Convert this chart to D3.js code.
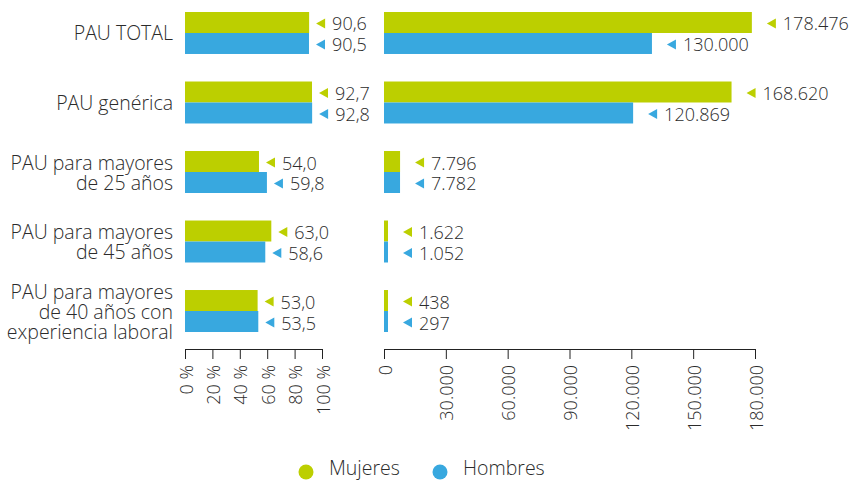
<!DOCTYPE html>
<html>
<head>
<meta charset="utf-8">
<script src="https://cdn.jsdelivr.net/npm/d3@7"></script>
<style>
  body { margin: 0; background: #fff; }
  text { font-family: "Open Sans", sans-serif; font-weight: 300; fill: #2b2b2b; }
</style>
</head>
<body>
<div id="chart"></div>
<script>
// data
var categories = [
  ["PAU TOTAL"],
  ["PAU genérica"],
  ["PAU para mayores", "de 25 años"],
  ["PAU para mayores", "de 45 años"],
  ["PAU para mayores", "de 40 años con", "experiencia laboral"]
];
var pctMujeres = [90.6, 92.7, 54.0, 63.0, 53.0];
var pctHombres = [90.5, 92.8, 59.8, 58.6, 53.5];
var numMujeres = [178476, 168620, 7796, 1622, 438];
var numHombres = [130000, 120869, 7782, 1052, 297];
var pctTicks = [0, 20, 40, 60, 80, 100];
var numTicks = [0, 30000, 60000, 90000, 120000, 150000, 180000];
var series = ["Mujeres", "Hombres"];

var colors = { Mujeres: "#bccf00", Hombres: "#38a8df" };

var width = 851, height = 482;

var es = d3.formatLocale({ decimal: ",", thousands: ".", grouping: [3], currency: ["", " €"] });
var fmtPct = es.format(".1f");
var fmtNum = es.format(",d");

const svg = d3.select("#chart")
  .append("svg")
  .attr("width", width)
  .attr("height", height);

// rows
var y = d3.scaleBand()
  .domain(d3.range(categories.length))
  .range([12, 332])
  .paddingInner(0.396)
  .paddingOuter(0);

var ySub = d3.scaleBand()
  .domain(series)
  .range([0, y.bandwidth()]);

var xPct = d3.scaleLinear().domain([0, 100]).range([185, 322]);
var xNum = d3.scaleLinear().domain([0, 180000]).range([384, 755]);

// flatten to rows for drawing
var rows = [];
categories.forEach(function(c, i) {
  rows.push({ i: i, s: "Mujeres", pct: pctMujeres[i], num: numMujeres[i] });
  rows.push({ i: i, s: "Hombres", pct: pctHombres[i], num: numHombres[i] });
});

function drawPanel(key, x, fmt, triGap, textGap) {
  var g = svg.append("g").attr("class", "panel-" + key);
  var barW = d => Math.max(x(d[key]) - x(0), 4);

  g.selectAll("rect")
    .data(rows)
    .enter()
    .append("rect")
      .attr("x", x(0))
      .attr("y", d => y(d.i) + ySub(d.s))
      .attr("width", barW)
      .attr("height", ySub.bandwidth())
      .attr("fill", d => colors[d.s]);

  // little left-pointing triangles
  g.selectAll("path.tri")
    .data(rows)
    .enter()
    .append("path")
      .attr("class", "tri")
      .attr("transform", d => `translate(${x(0) + barW(d) + triGap}, ${y(d.i) + ySub(d.s) + ySub.bandwidth() / 2 + 1})`)
      .attr("d", "M0,0 L9,-5 L9,5 Z")
      .attr("fill", d => colors[d.s]);

  g.selectAll("text.val")
    .data(rows)
    .enter()
    .append("text")
      .attr("class", "val")
      .attr("x", d => x(0) + barW(d) + textGap)
      .attr("y", d => y(d.i) + ySub(d.s) + ySub.bandwidth() / 2 + 1)
      .attr("dominant-baseline", "central")
      .attr("font-size", "18px")
      .text(d => fmt(d[key]));
}

drawPanel("pct", xPct, fmtPct, 7, 23);
drawPanel("num", xNum, fmtNum, 15, 31);

// category labels, one text per line
var lab = svg.append("g").attr("class", "cat-labels");
categories.forEach(function(lines, i) {
  var cy = y(i) + y.bandwidth() / 2;
  lines.forEach(function(l, k) {
    lab.append("text")
      .attr("x", 173)
      .attr("y", cy + (k - (lines.length - 1) / 2) * 20)
      .attr("text-anchor", "end")
      .attr("font-size", "19.5px")
      .attr("dominant-baseline", "central")
      .text(l);
  });
});

// axes
function drawAxis(x, ticks, fmt) {
  var ax = svg.append("g")
    .attr("transform", "translate(0,349)")
    .call(d3.axisBottom(x).tickValues(ticks).tickFormat(fmt).tickSize(10).tickSizeOuter(0));
  ax.select(".domain").attr("stroke", "#222");
  ax.selectAll(".tick line").attr("stroke", "#222");
  ax.selectAll(".tick text")
    .attr("transform", "rotate(-90)")
    .attr("text-anchor", "end")
    .attr("dominant-baseline", "central")
    .attr("x", -16)
    .attr("y", 0)
    .attr("dy", null)
    .attr("font-size", "18px")
    .attr("font-family", "'Open Sans', sans-serif")
    .attr("font-weight", 300)
    .attr("fill", "#2b2b2b");
}
drawAxis(xPct, pctTicks, d => d + " %");
drawAxis(xNum, numTicks, d => fmtNum(d));

// legend
var legendX = d3.scalePoint().domain(series).range([306, 440]);
var leg = svg.append("g").attr("class", "legend");
leg.selectAll("circle")
  .data(series)
  .enter()
  .append("circle")
    .attr("cx", d => legendX(d))
    .attr("cy", 472)
    .attr("r", 7.5)
    .attr("fill", d => colors[d]);
leg.selectAll("text")
  .data(series)
  .enter()
  .append("text")
    .attr("x", d => legendX(d) + 23)
    .attr("y", 475)
    .attr("font-size", "19.5px")
    .text(d => d);
</script>
</body>
</html>
